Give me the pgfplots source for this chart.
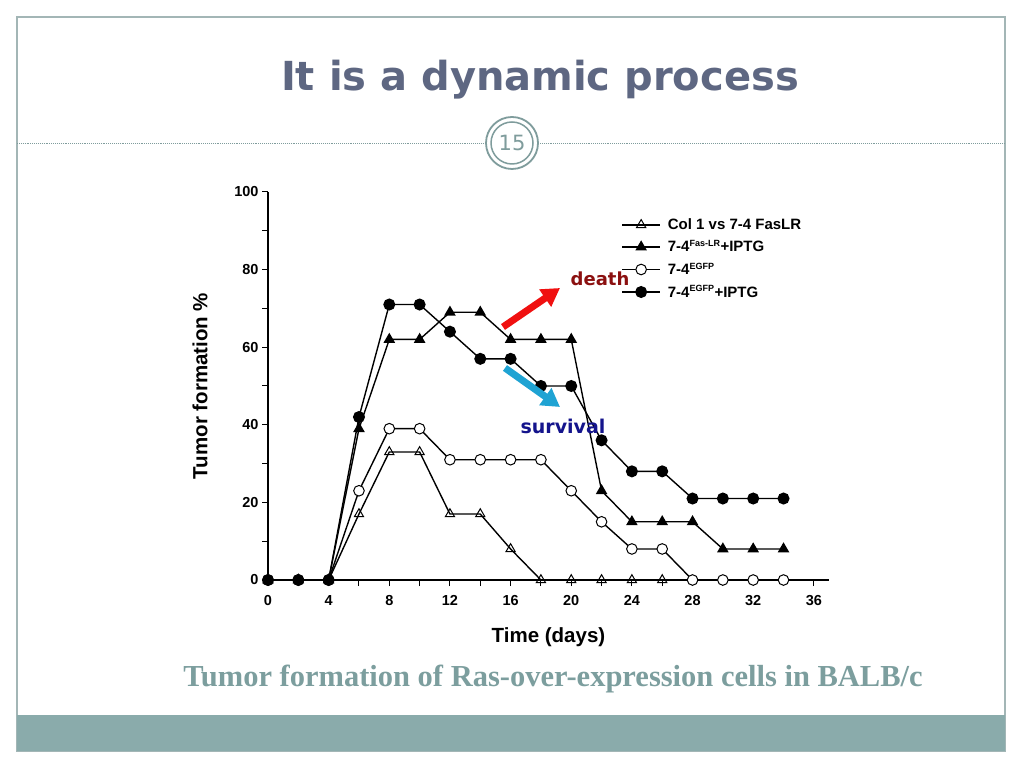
\documentclass[border=0pt]{standalone}
\usepackage{fontspec}
\setmainfont{Liberation Sans}
\newfontfamily\verd{DejaVu Sans}
\newfontfamily\serifb{Liberation Serif}
\usepackage{pgfplots}
\pgfplotsset{compat=1.18}
\usetikzlibrary{arrows.meta}

\definecolor{titlecol}{HTML}{5E6782}
\definecolor{framecol}{HTML}{A3B6B6}
\definecolor{bandcol}{HTML}{8AABAB}
\definecolor{capcol}{HTML}{7C9E9E}
\definecolor{ringcol}{HTML}{7F9C9C}
\definecolor{deathcol}{HTML}{8B1010}
\definecolor{survcol}{HTML}{14148C}
\definecolor{redarrow}{HTML}{F01010}
\definecolor{bluearrow}{HTML}{1FA3D3}

\begin{document}
\begin{tikzpicture}[x=1pt,y=1pt]
% page: 1024 x 768, y measured from the bottom
\useasboundingbox (0,0) rectangle (1024,768);
\fill[white] (0,0) rectangle (1024,768);
\draw[framecol, line width=1.2pt] (17,17) rectangle (1005,751);
\fill[bandcol] (17,17) rectangle (1005,53);

% title and slide number
\node[anchor=base, text=titlecol, font=\verd\bfseries\fontsize{40}{48}\selectfont] at (540,677) {It is a dynamic process};
\draw[ringcol, densely dotted, line width=0.9pt] (17,625) -- (484,625);
\draw[ringcol, densely dotted, line width=0.9pt] (540,625) -- (1005,625);
\draw[ringcol, line width=1.8pt] (512,625) circle (26);
\draw[ringcol, line width=1.5pt] (512,625) circle (21);
\node[text=ringcol, font=\verd\fontsize{21}{24}\selectfont] at (512,625) {15};

\begin{axis}[
    at={(268pt,188pt)}, anchor=south west,
    scale only axis, width=561pt, height=388pt,
    xmin=0, xmax=37, ymin=0, ymax=100,
    axis lines=left,
    axis line style={-, line width=1.2pt},
    xtick={0,4,...,36}, minor xtick={2,6,...,34},
    ytick={0,20,...,100}, minor ytick={10,30,...,90},
    tick align=outside,
    major tick length=6pt, minor tick length=6pt,
    tick style={line width=1pt, black},
    /pgf/number format/assume math mode=true,
    tick label style={font=\bfseries\fontsize{14.5}{17}\selectfont},
    xticklabel style={yshift=-6pt},
    xlabel={Time (days)},
    ylabel={Tumor formation \%},
    xlabel style={font=\bfseries\fontsize{20.5}{24}\selectfont, at={(axis description cs:0.5,-0.147)}, anchor=center},
    ylabel style={font=\bfseries\fontsize{20.5}{24}\selectfont, at={(axis description cs:-0.121,0.5)}, anchor=center},
    every axis plot/.append style={black, line width=1.4pt, mark size=5.3pt},
    legend image code/.code={\draw[line width=1.4pt, mark repeat=2,mark phase=2] plot coordinates {(0pt,0pt)(19pt,0pt)(38pt,0pt)};},
    legend style={at={(axis cs:23.1,94.2)}, anchor=north west, draw=none, fill=none,
        font=\bfseries\fontsize{15}{17}\selectfont, row sep=5.5pt, column sep=5pt, cells={anchor=west}},
    clip=false,
]
\addplot[mark=triangle, mark options={fill=white, line width=1pt}] coordinates {
    (0,0) (2,0) (4,0) (6,17) (8,33) (10,33) (12,17) (14,17) (16,8) (18,0)
    (20,0) (22,0) (24,0) (26,0)
};
\addlegendentry{Col 1 vs 7-4 FasLR}
\addplot[mark=triangle*, mark options={fill=black}] coordinates {
    (0,0) (2,0) (4,0) (6,39) (8,62) (10,62) (12,69) (14,69) (16,62) (18,62)
    (20,62) (22,23) (24,15) (26,15) (28,15) (30,8) (32,8) (34,8)
};
\addlegendentry{7-4\textsuperscript{\fontsize{9}{10}\selectfont Fas-LR}+IPTG}
\addplot[mark=*, mark options={fill=white, line width=1pt}] coordinates {
    (0,0) (2,0) (4,0) (6,23) (8,39) (10,39) (12,31) (14,31) (16,31) (18,31)
    (20,23) (22,15) (24,8) (26,8) (28,0) (30,0) (32,0) (34,0)
};
\addlegendentry{7-4\textsuperscript{\fontsize{9}{10}\selectfont EGFP}}
\addplot[mark=*, mark options={fill=black}] coordinates {
    (0,0) (2,0) (4,0) (6,42) (8,71) (10,71) (12,64) (14,57) (16,57) (18,50)
    (20,50) (22,36) (24,28) (26,28) (28,21) (30,21) (32,21) (34,21)
};
\addlegendentry{7-4\textsuperscript{\fontsize{9}{10}\selectfont EGFP}+IPTG}
\end{axis}

% annotations
\draw[redarrow, line width=7pt, -{Triangle[length=18pt, width=20pt]}] (503,441) -- (560,480);
\draw[bluearrow, line width=7pt, -{Triangle[length=18pt, width=20pt]}] (505,400) -- (560,361);
\node[text=deathcol, font=\verd\bfseries\fontsize{18}{21}\selectfont] at (600,489) {death};
\node[text=survcol, font=\verd\bfseries\fontsize{19}{22}\selectfont] at (563,342) {survival};

% caption
\node[anchor=base, text=capcol, font=\serifb\bfseries\fontsize{30.5}{36}\selectfont] at (553,82) {Tumor formation of Ras-over-expression cells in BALB/c};
\end{tikzpicture}
\end{document}
